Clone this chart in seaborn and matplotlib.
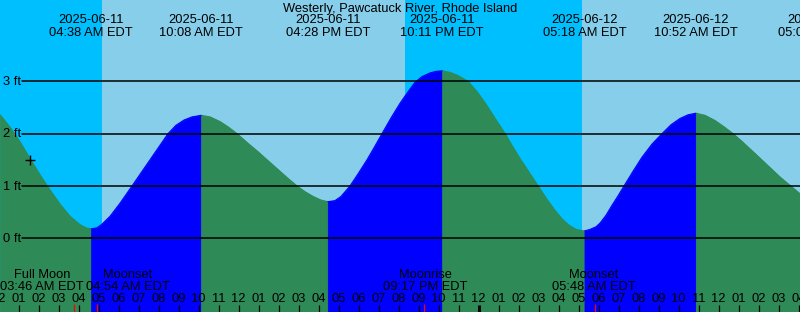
import numpy as np
import pandas as pd
import matplotlib
matplotlib.use("Agg")
import matplotlib.pyplot as plt
import seaborn as sns

# ---------------- data (hours since 2025-06-11 00:00 EDT, feet) ----------------
tide_hours = [0.075, 0.575, 1.075, 1.575, 2.075, 2.575, 3.075, 3.575, 4.075, 4.375, 4.633,
              4.925, 5.175, 5.575, 6.075, 6.675, 7.125, 7.575, 8.025, 8.475, 8.875, 9.275,
              9.675, 10.133,
              10.575, 11.075, 11.475, 11.925, 12.425, 12.925, 13.425, 13.925, 14.425, 14.925,
              15.325, 15.725, 16.125, 16.467,
              16.825, 17.125, 17.575, 17.975, 18.425, 18.775, 19.175, 19.625, 20.075, 20.475,
              20.825, 21.175, 21.575, 21.875, 22.183,
              22.575, 22.975, 23.475, 23.925, 24.375, 24.825, 25.325, 25.675, 26.075, 26.525,
              26.975, 27.425, 27.825, 28.175, 28.525, 28.875, 29.300,
              29.575, 29.875, 30.075, 30.375, 30.675, 30.975, 31.275, 31.725, 32.175, 32.675,
              33.175, 33.625, 34.075, 34.475, 34.867,
              35.325, 35.825, 36.275, 36.725, 37.175, 37.625, 38.075, 38.575, 39.075, 39.575,
              40.075]
tide_ft = [2.36, 2.12, 1.84, 1.52, 1.21, 0.92, 0.65, 0.42, 0.26, 0.20, 0.18,
           0.20, 0.27, 0.42, 0.67, 1.00, 1.25, 1.50, 1.75, 2.00, 2.16, 2.26,
           2.32, 2.35,
           2.32, 2.23, 2.13, 2.00, 1.83, 1.67, 1.50, 1.33, 1.16, 1.00,
           0.89, 0.80, 0.73, 0.70,
           0.72, 0.80, 1.00, 1.23, 1.50, 1.73, 2.00, 2.30, 2.58, 2.80,
           2.98, 3.09, 3.16, 3.19, 3.20,
           3.17, 3.11, 3.00, 2.80, 2.56, 2.29, 2.00, 1.77, 1.52, 1.26,
           1.00, 0.74, 0.53, 0.37, 0.25, 0.17, 0.14,
           0.17, 0.22, 0.29, 0.44, 0.63, 0.81, 1.00, 1.28, 1.55, 1.80,
           2.00, 2.17, 2.29, 2.36, 2.39,
           2.35, 2.25, 2.13, 2.00, 1.85, 1.69, 1.53, 1.35, 1.17, 1.01,
           0.85]

extreme_hours = [4.633, 10.133, 16.467, 22.183, 29.300, 34.867, 41.083]
extreme_dates = ["2025-06-11", "2025-06-11", "2025-06-11", "2025-06-11",
                 "2025-06-12", "2025-06-12", "2025-06-12"]
extreme_times = ["04:38 AM EDT", "10:08 AM EDT", "04:28 PM EDT", "10:11 PM EDT",
                 "05:18 AM EDT", "10:52 AM EDT", "05:05 PM EDT"]

sunrise_hours = [5.167, 29.167]
sunset_hours = [20.333]

moon_names = ["Full Moon", "Moonset", "Moonrise", "Moonset"]
moon_times = ["03:46 AM EDT", "04:54 AM EDT", "09:17 PM EDT", "05:48 AM EDT"]
moon_hours = [3.767, 4.900, 21.283, 29.800]

y_levels = [0, 1, 2, 3]
y_labels = ["0 ft", "1 ft", "2 ft", "3 ft"]

now_hour, now_ft = 1.575, 1.50
title = "Westerly, Pawcatuck River, Rhode Island"

# ---------------- styling ----------------
sns.set_theme(style="white")
plt.rcParams["font.family"] = ["Liberation Sans", "DejaVu Sans"]

W, H = 800, 312
PX_PER_HOUR = 20.0
X_OFF = 1.5                  # pixel x = 20*t - 1.5
Y0, PPF = 238.3, 52.33       # pixel y of 0 ft, pixels per foot
FS = 9.3
TXT = "black"

NIGHT = "#00BFFF"
DAY = "#87CEEB"
RISE = "#0000FF"
FALL = "#2E8B57"

t_left = X_OFF / PX_PER_HOUR
t_right = (W + X_OFF) / PX_PER_HOUR
y_bot = (Y0 - H) / PPF
y_top = Y0 / PPF

fig = plt.figure(figsize=(W / 100, H / 100), dpi=100)
ax = fig.add_axes([0, 0, 1, 1])
ax.set_xlim(t_left, t_right)
ax.set_ylim(y_bot, y_top)
ax.axis("off")

def fx(px):
    return px / W

def fy(py):
    return 1 - py / H

# sky
ax.axvspan(t_left - 5, t_right + 5, color=DAY, lw=0, zorder=0)
night_edges = [t_left - 5] + sorted(sunrise_hours + sunset_hours) + [t_right + 5]
for i in range(0, len(night_edges) - 1, 2):
    ax.axvspan(night_edges[i], night_edges[i + 1], color=NIGHT, lw=0, zorder=0)

# water, split into rising / falling segments at extremes
df = pd.DataFrame({"hour": tide_hours, "ft": tide_ft})
cuts = [t for t in extreme_hours if tide_hours[0] < t < tide_hours[-1]]
bounds = [tide_hours[0]] + cuts + [tide_hours[-1]]
rows = []
for k in range(len(bounds) - 1):
    a, b = bounds[k], bounds[k + 1]
    seg = df[(df.hour >= a - 1e-9) & (df.hour <= b + 1e-9)].copy()
    rising = seg.ft.iloc[-1] > seg.ft.iloc[0]
    seg["phase"] = "rising" if rising else "falling"
    seg["segment"] = k
    rows.append(seg)
    col = RISE if rising else FALL
    ax.fill_between(seg.hour, seg.ft, y_bot, color=col, lw=0.6, edgecolor=col, zorder=1)
curve = pd.concat(rows, ignore_index=True)
sns.lineplot(data=curve, x="hour", y="ft", hue="phase", units="segment",
             estimator=None, palette={"rising": RISE, "falling": FALL},
             lw=0.8, legend=False, ax=ax, zorder=2)

# grid lines and labels
for v, lab in zip(y_levels, y_labels):
    ax.axhline(v, xmin=22 / W, xmax=1, color="black", lw=1.1, zorder=3)
    py = Y0 - v * PPF
    fig.text(fx(3), fy(py + 3.8), lab, ha="left", va="baseline", fontsize=FS, color=TXT)

# current-time marker
ax.plot([now_hour], [now_ft], marker="+", color="black", ms=7, mew=1.0, zorder=4)

# title and extreme labels
fig.text(0.5, fy(11.7), title, ha="center", va="baseline", fontsize=FS, color=TXT)
for t, d, s in zip(extreme_hours, extreme_dates, extreme_times):
    px = t * PX_PER_HOUR - X_OFF
    fig.text(fx(px), fy(23.3), d, ha="center", va="baseline", fontsize=FS, color=TXT)
    fig.text(fx(px), fy(36.0), s, ha="center", va="baseline", fontsize=FS, color=TXT)

# hour ticks and labels
xt = ax.get_xaxis_transform()
for hh in range(0, 42):
    px = hh * PX_PER_HOUR - X_OFF
    lab = "%02d" % ((hh % 12) or 12)
    fig.text(fx(px), fy(301.5), lab, ha="center", va="baseline", fontsize=FS, color=TXT)
    lw = 2.2 if hh % 24 == 0 else 0.9
    ax.plot([hh, hh], [0, 7 / H], transform=xt, color="black", lw=lw,
            solid_capstyle="butt", zorder=5)

# moon events
moon_label_px = [42, 128, 425, 594]
for name, s, t, lpx in zip(moon_names, moon_times, moon_hours, moon_label_px):
    ax.plot([t, t], [0, 8 / H], transform=xt, color="red", lw=0.9,
            solid_capstyle="butt", zorder=6)
    fig.text(fx(lpx), fy(278.5), name, ha="center", va="baseline", fontsize=FS, color=TXT)
    fig.text(fx(lpx), fy(289.5), s, ha="center", va="baseline", fontsize=FS, color=TXT)

fig.savefig("out.png", dpi=100)
